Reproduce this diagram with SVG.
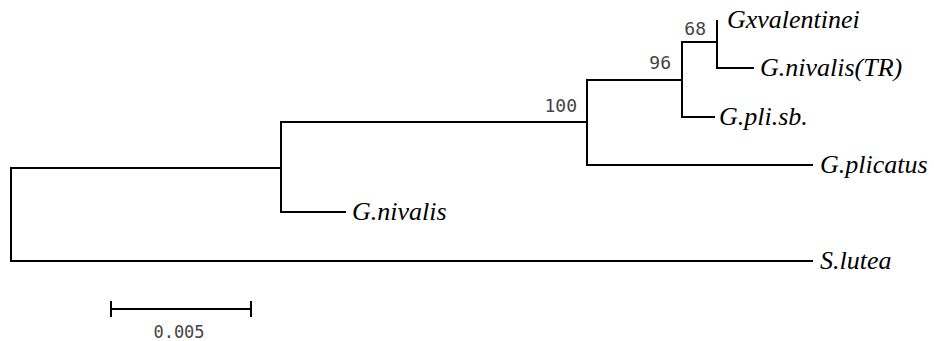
<svg xmlns="http://www.w3.org/2000/svg" width="934" height="341" viewBox="0 0 934 341">
<style>
.br{fill:none;stroke:#000;stroke-width:2;stroke-linecap:square}
</style>
<rect width="934" height="341" fill="#fff"/>
<g id="connectors">
<path class="br" d="M11,168 V261"/>
<path class="br" d="M11,168 H281"/>
<path class="br" d="M11,261 H812"/>
<path class="br" d="M281,122 V212"/>
<path class="br" d="M281,212 H345"/>
<path class="br" d="M281,122 H587"/>
<path class="br" d="M587,80 V165"/>
<path class="br" d="M587,165 H812"/>
<path class="br" d="M587,80 H682"/>
<path class="br" d="M682,42 V117"/>
<path class="br" d="M682,117 H714"/>
<path class="br" d="M682,42 H717"/>
<path class="br" d="M717,21 V68"/>
<path class="br" d="M717,68 H753"/>
</g>
<g id="n100"><text x="577" y="112" font-family="DejaVu Sans Mono" font-size="18" fill="#444" text-anchor="end">100</text></g>
<g id="n96"><text x="671" y="69" font-family="DejaVu Sans Mono" font-size="18" fill="#444" text-anchor="end">96</text></g>
<g id="n68"><text x="706" y="35" font-family="DejaVu Sans Mono" font-size="18" fill="#444" text-anchor="end">68</text></g>
<g id="Gxvalentinei"><text x="727" y="28" font-family="Liberation Serif" font-style="italic" font-size="26">Gxvalentinei</text></g>
<g id="GnivalisTR"><text x="760" y="76" font-family="Liberation Serif" font-style="italic" font-size="26">G.nivalis(TR)</text></g>
<g id="Gplisb"><text x="719" y="125" font-family="Liberation Serif" font-style="italic" font-size="26">G.pli.sb.</text></g>
<g id="Gplicatus"><text x="820" y="173" font-family="Liberation Serif" font-style="italic" font-size="26">G.plicatus</text></g>
<g id="Gnivalis"><text x="352" y="220" font-family="Liberation Serif" font-style="italic" font-size="26">G.nivalis</text></g>
<g id="Slutea"><text x="820" y="269" font-family="Liberation Serif" font-style="italic" font-size="26">S.lutea</text></g>
<g id="scale">
<path class="br" d="M111,309 H251 M111,302 V316 M251,302 V316"/>
<text x="179" y="338" font-family="DejaVu Sans Mono" font-size="17" fill="#444" text-anchor="middle">0.005</text>
</g>
</svg>
